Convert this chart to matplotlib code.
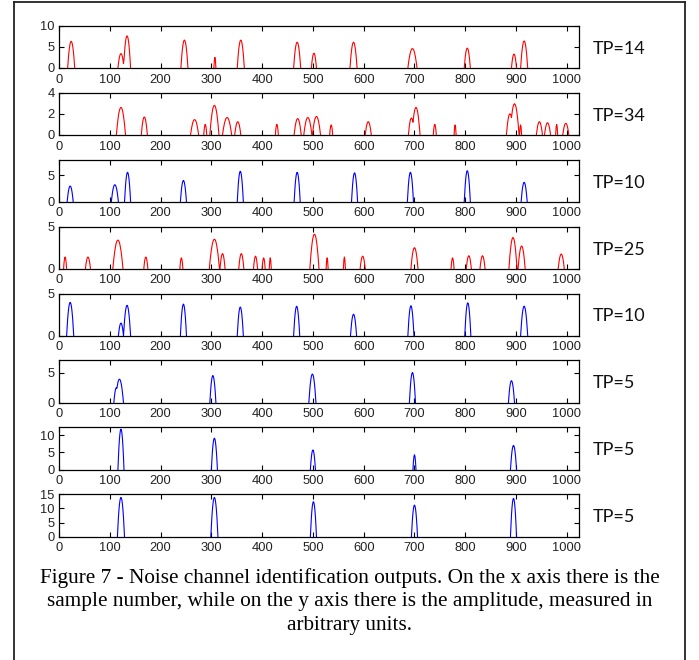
import numpy as np
import matplotlib.pyplot as plt
from matplotlib.lines import Line2D

# pulse data: centre (sample), peak amplitude, half width (samples)
p1_centers = [24, 122, 134, 247, 307, 358, 469, 502, 580, 696, 804, 896, 916]
p1_heights = [6.3, 3.4, 7.6, 6.6, 2.5, 6.6, 6.1, 3.5, 6.1, 4.6, 4.7, 3.3, 6.4]
p1_widths = [7, 6, 7, 7, 2, 7, 7, 5, 7, 9, 6, 5, 7]

p2_centers = [122, 168, 267, 288, 306, 331, 352, 429, 470, 490, 507, 536,
              609, 694, 703, 740, 780, 888, 897, 909, 946, 962, 980, 998]
p2_heights = [2.6, 1.7, 1.45, 1.0, 2.8, 1.65, 1.25, 1.0, 1.55, 1.65, 1.75, 0.95,
              1.25, 1.6, 2.6, 1.0, 0.95, 2.0, 2.95, 0.95, 1.25, 1.15, 1.0, 1.1]
p2_widths = [9, 6, 8, 3, 9, 9, 6, 3, 7, 8, 8, 3,
             6, 6, 8, 3, 2, 7, 9, 2, 6, 6, 2, 6]

p3_centers = [22, 110, 135, 245, 357, 469, 582, 692, 804, 916]
p3_heights = [3.0, 3.25, 5.6, 4.05, 5.8, 5.6, 5.5, 5.6, 5.9, 3.7]
p3_widths = [6, 7, 6, 6, 6, 6, 6, 6, 6, 6]

p4_centers = [12, 57, 116, 171, 241, 306, 322, 359, 387, 403, 416, 503, 528,
              562, 598, 700, 775, 807, 834, 894, 911, 989]
p4_heights = [1.4, 1.4, 3.4, 1.4, 1.3, 3.5, 1.8, 1.8, 1.5, 1.3, 1.3, 4.1, 1.3,
              1.4, 1.5, 2.5, 1.3, 1.55, 1.55, 3.7, 2.7, 1.75]
p4_widths = [3, 5, 10, 4, 3, 10, 5, 5, 4, 3, 2, 9, 2,
             2, 5, 7, 3, 5, 5, 8, 7, 6]

p5_centers = [22, 122, 134, 245, 357, 468, 580, 693, 805, 916]
p5_heights = [3.95, 1.5, 3.6, 3.75, 3.4, 3.5, 2.55, 3.55, 3.9, 3.5]
p5_widths = [7, 5, 7, 6, 6, 6, 6, 6, 6, 7]

p6_centers = [113, 119, 303, 499, 696, 891]
p6_heights = [2.5, 3.9, 4.5, 4.75, 5.0, 3.65]
p6_widths = [5, 8, 6, 7, 6, 6]

p7_centers = [122, 306, 500, 700, 895]
p7_heights = [11.7, 9.1, 5.7, 4.3, 7.0]
p7_widths = [6, 6, 5, 3, 6]

p8_centers = [122, 306, 501, 700, 895]
p8_heights = [13.9, 13.9, 12.4, 11.2, 13.6]
p8_widths = [7, 7, 6, 6, 6]

panel_colors = ['red', 'red', 'blue', 'red', 'blue', 'blue', 'blue', 'blue']
panel_ylims = [10, 4, 8, 5, 5, 7, 12.2, 15]
panel_yticks = [[0, 5, 10], [0, 2, 4], [0, 5], [0, 5], [0, 5], [0, 5], [0, 5, 10], [0, 5, 10, 15]]
tp_labels = ['TP=14', 'TP=34', 'TP=10', 'TP=25', 'TP=10', 'TP=5', 'TP=5', 'TP=5']
xticks = [0, 100, 200, 300, 400, 500, 600, 700, 800, 900, 1000]

caption = ("Figure 7 - Noise channel identification outputs. On the x axis there is the\n"
           "sample number, while on the y axis there is the amplitude, measured in\n"
           "arbitrary units.")

panels = [
    (p1_centers, p1_heights, p1_widths),
    (p2_centers, p2_heights, p2_widths),
    (p3_centers, p3_heights, p3_widths),
    (p4_centers, p4_heights, p4_widths),
    (p5_centers, p5_heights, p5_widths),
    (p6_centers, p6_heights, p6_widths),
    (p7_centers, p7_heights, p7_widths),
    (p8_centers, p8_heights, p8_widths),
]

samples = np.arange(1, 1025)


def build_signal(centers, heights, widths):
    # each detected pulse drawn as a clipped parabola, overlapping ones take the max
    sig = np.zeros(len(samples))
    for c, h, w in zip(centers, heights, widths):
        bump = h * (1 - ((samples - c) / w) ** 2)
        sig = np.maximum(sig, np.clip(bump, 0, None))
    # hide the long zero stretches, keep one zero sample on each side of a pulse
    on = sig > 0
    keep = on | np.roll(on, 1) | np.roll(on, -1)
    sig[~keep] = np.nan
    return sig


W, H = 699, 660
fig = plt.figure(figsize=(W / 100, H / 100), dpi=100)

left_px, right_px = 59, 579
for i, (centers, heights, widths) in enumerate(panels):
    top_px = 25.7 + 66.95 * i
    bot_px = top_px + 42.3
    ax = fig.add_axes([left_px / W, 1 - bot_px / H, (right_px - left_px) / W, (bot_px - top_px) / H])
    sig = build_signal(centers, heights, widths)
    ax.plot(samples, sig, color=panel_colors[i], lw=0.8, zorder=2)
    ax.set_xlim(0, 1024)
    ax.set_ylim(0, panel_ylims[i])
    ax.set_xticks(xticks)
    ax.set_yticks(panel_yticks[i])
    ax.tick_params(direction='in', top=True, right=True, length=3.5, width=0.8,
                   labelsize=9.3, labelcolor='#222222', pad=3.0)
    ax.tick_params(axis='x', pad=4.0)
    for lab in ax.get_xticklabels() + ax.get_yticklabels():
        lab.set_fontfamily('Liberation Sans')
    for sp in ax.spines.values():
        sp.set_linewidth(0.9)
        sp.set_zorder(3)
    fig.text(593 / W, 1 - (top_px + 23) / H, tp_labels[i], fontsize=13,
             family='Lato', color='#111111', va='center', ha='left')

fig.text(0.5, 1 - 601.5 / H, caption, ha='center', va='center', fontsize=15.3,
         family='Liberation Serif', linespacing=1.32, color='black')

# frame around the figure
fx0, fx1, fy0 = 13.5 / W, 685 / W, 1 - 2 / H
fig.add_artist(Line2D([fx0, fx0], [0, fy0], color='#222222', lw=1.3))
fig.add_artist(Line2D([fx1, fx1], [0, fy0], color='#222222', lw=1.3))
fig.add_artist(Line2D([fx0, fx1], [fy0, fy0], color='#222222', lw=1.3))

fig.savefig('out.png', dpi=100)
